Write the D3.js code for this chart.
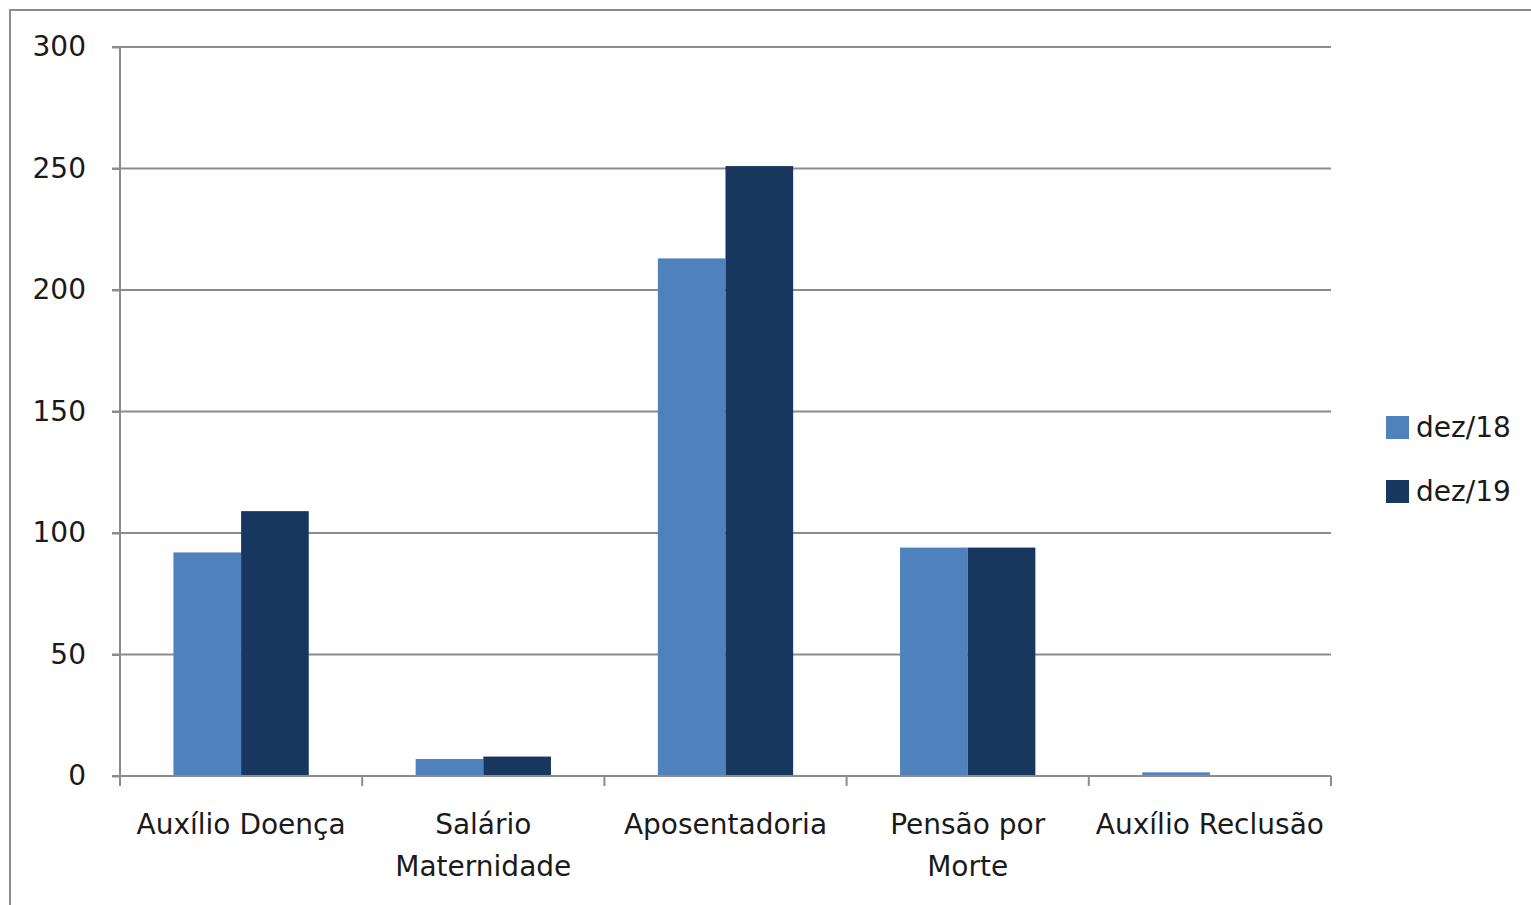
<!DOCTYPE html>
<html><head><meta charset="utf-8">
<script src="https://cdn.jsdelivr.net/npm/d3@7"></script>
<style>body{margin:0;background:#fff}svg{display:block}</style>
</head><body>
<script>
const categories = [["Auxílio Doença"], ["Salário", "Maternidade"], ["Aposentadoria"], ["Pensão por", "Morte"], ["Auxílio Reclusão"]];
const seriesNames = ["dez/18", "dez/19"];
const dez18 = [92, 7, 213, 94, 1.5];
const dez19 = [109, 8, 251, 94, 0];
const yTicks = [0, 50, 100, 150, 200, 250, 300];
const colors = ["#4F81BD", "#17375E"];

(function () {
const W = 1531, H = 905;
const font = "'DejaVu Sans', sans-serif";
const fs = 28;
const svg = d3.select("body").append("svg").attr("width", W).attr("height", H);
svg.append("rect").attr("x", 10).attr("y", 10).attr("width", W + 20).attr("height", H + 20)
  .attr("fill", "#fff").attr("stroke", "#8c8c8c").attr("stroke-width", 2);

const pl = 120, pr = 1331, pt = 47, pb = 776;
const keys = categories.map((c, i) => i);
const x = d3.scaleBand().domain(keys).range([pl, pr]).paddingInner(0).paddingOuter(0);
const y = d3.scaleLinear().domain([0, 300]).range([pb, pt]);
const x1 = d3.scaleBand().domain([0, 1]).range([0, x.bandwidth()]).paddingOuter(0.79).paddingInner(0);

// gridlines
svg.append("g").selectAll("line").data(yTicks.filter(d => d > 0)).join("line")
  .attr("x1", pl - 8).attr("x2", pr).attr("y1", d => y(d)).attr("y2", d => y(d))
  .attr("stroke", "#8c8c8c").attr("stroke-width", 2);

// bars
const data = [dez18, dez19];
const g = svg.append("g");
data.forEach((arr, s) => {
  g.selectAll(null).data(arr).join("rect")
    .attr("x", (d, i) => x(i) + x1(s))
    .attr("width", x1.bandwidth())
    .attr("y", d => y(d))
    .attr("height", d => pb - y(d))
    .attr("fill", colors[s]);
});

// y axis
const yAxis = d3.axisLeft(y).tickValues(yTicks).tickSize(8).tickPadding(26);
const ya = svg.append("g").attr("transform", `translate(${pl},0)`).call(yAxis);
ya.select(".domain").attr("stroke", "#8c8c8c").attr("stroke-width", 2).attr("d", `M0,${pt}V${pb + 10}`);
ya.selectAll(".tick line").attr("stroke", "#8c8c8c").attr("stroke-width", 2);
ya.selectAll(".tick text").attr("font-family", font).attr("font-size", fs).attr("fill", "#1a1a1a");

// x axis
const xa = svg.append("g").attr("transform", `translate(0,${pb})`);
xa.append("line").attr("x1", pl - 8).attr("x2", pr).attr("y1", 0).attr("y2", 0)
  .attr("stroke", "#8c8c8c").attr("stroke-width", 2);
const bounds = keys.map(k => x(k)).concat([x(keys[keys.length - 1]) + x.bandwidth()]);
xa.selectAll("line.t").data(bounds).join("line").attr("class", "t")
  .attr("x1", d => d).attr("x2", d => d).attr("y1", 0).attr("y2", 10)
  .attr("stroke", "#8c8c8c").attr("stroke-width", 2);
const lab = xa.selectAll("text").data(categories).join("text")
  .attr("x", (d, i) => x(i) + x.bandwidth() / 2)
  .attr("y", 58).attr("text-anchor", "middle")
  .attr("font-family", font).attr("font-size", fs).attr("fill", "#1a1a1a");
lab.selectAll("tspan").data(d => d).join("tspan")
  .attr("x", function () { return this.parentNode.getAttribute("x"); })
  .attr("dy", (d, i) => i === 0 ? 0 : 42).text(d => d);

// legend
const lg = svg.append("g").attr("transform", "translate(1386,416)");
seriesNames.forEach((n, i) => {
  lg.append("rect").attr("x", 0).attr("y", i * 64).attr("width", 23).attr("height", 23).attr("fill", colors[i]);
  lg.append("text").attr("x", 30).attr("y", i * 64 + 21).text(n)
    .attr("font-family", font).attr("font-size", fs).attr("fill", "#1a1a1a");
});
})();
</script>
</body></html>
